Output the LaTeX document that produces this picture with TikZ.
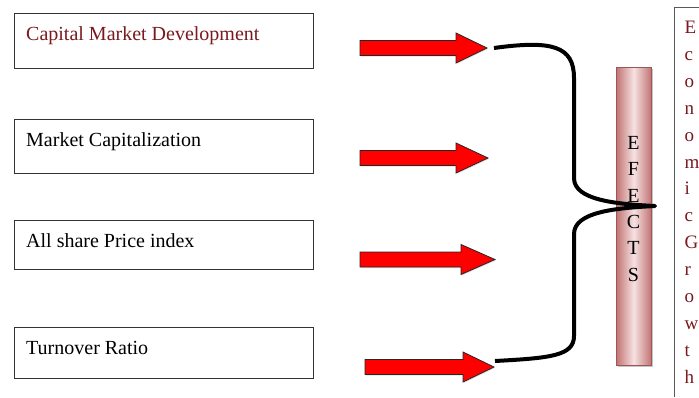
\documentclass[tikz,border=0pt]{standalone}
\usepackage{fontspec}
\setmainfont{Liberation Serif}
\usetikzlibrary{shadows}
\definecolor{deepred}{HTML}{7A1A1E}
\definecolor{arrowred}{HTML}{FF0000}
\definecolor{barpink}{HTML}{F6E2E2}
\definecolor{baredge}{HTML}{C27373}
\definecolor{barline}{HTML}{9E5555}
\tikzset{
  factorbox/.style={draw=black!80, line width=0.9pt, anchor=north west, minimum width=299pt, inner sep=0pt},
  boxlabel/.style={anchor=base west, inner sep=0pt, font=\fontsize{20}{22}\selectfont},
  blockarrow/.style={fill=arrowred, draw=black!85, line width=0.8pt, line join=miter,
    drop shadow={opacity=0.25, shadow xshift=1pt, shadow yshift=-1pt}},
  bracket/.style={draw=black, line width=4pt, line join=round},
  effbar/.style={draw=barline, line width=0.6pt, anchor=north west, minimum width=35pt,
    minimum height=298pt, inner sep=0pt, left color=baredge, right color=baredge, middle color=barpink,
    drop shadow={opacity=0.45, shadow xshift=2pt, shadow yshift=-2pt}},
  barletter/.style={anchor=base, inner sep=0pt, font=\fontsize{20}{22}\selectfont},
  growthletter/.style={anchor=base west, inner sep=0pt, text=deepred, font=\fontsize{19}{21}\selectfont},
  framepart/.style={draw=black!65, line width=0.8pt}
}
\begin{document}
\begin{tikzpicture}[x=1pt, y=-1pt]
\useasboundingbox (0,0) rectangle (699,397);

% four indicator boxes
\node[factorbox, minimum height=55pt] (b1) at (14,13) {};
\node[factorbox, minimum height=54pt] (b2) at (14,119) {};
\node[factorbox, minimum height=49pt] (b3) at (14,220) {};
\node[factorbox, minimum height=51pt] (b4) at (14,327) {};
\node[boxlabel, text=deepred] (t1) at (26,40) {Capital Market Development};
\node[boxlabel] (t2) at (26,146) {Market Capitalization};
\node[boxlabel] (t3) at (26,247) {All share Price index};
\node[boxlabel] (t4) at (26,354) {Turnover Ratio};

% block arrows: tail x / head base x / tip x / centre y
\foreach \tx/\hx/\px/\cy in {360/456/487/48, 360/456/488/158, 360/461/495/259.5, 365/463/494/367}{
  \path[blockarrow] (\tx,\cy-7.5) -- (\hx,\cy-7.5) -- (\hx,\cy-15) -- (\px,\cy)
    -- (\hx,\cy+15) -- (\hx,\cy+7.5) -- (\tx,\cy+7.5) -- cycle;
}

% effects bar
\node[effbar] (bar) at (616,67) {};

% curly bracket gathering the arrows
\coordinate (bt) at (494,48);
\coordinate (bb) at (495,361);
\coordinate (tip) at (655,206);
\path[bracket] (bt) .. controls (552,40) and (574,46) .. (574,78) -- (574,178)
  .. controls (574,200) and (615,204) .. (tip)
  .. controls (615,208) and (574,212) .. (574,234) -- (574,336)
  .. controls (574,356) and (550,358) .. (bb);

\foreach \ch [count=\i] in {E,F,E,C,T,S}
  \node[barletter] (e\i) at (633.5,{149.5+26.3*(\i-1)}) {\ch};

% outcome column
\path[framepart] (674,397) -- (674,7) -- (700,7);
\foreach \ch [count=\i] in {E,c,o,n,o,m,i,c,G,r,o,w,t,h}
  \node[growthletter] (g\i) at (684.5,{33.5+26.9*(\i-1)}) {\ch};
\end{tikzpicture}
\end{document}
